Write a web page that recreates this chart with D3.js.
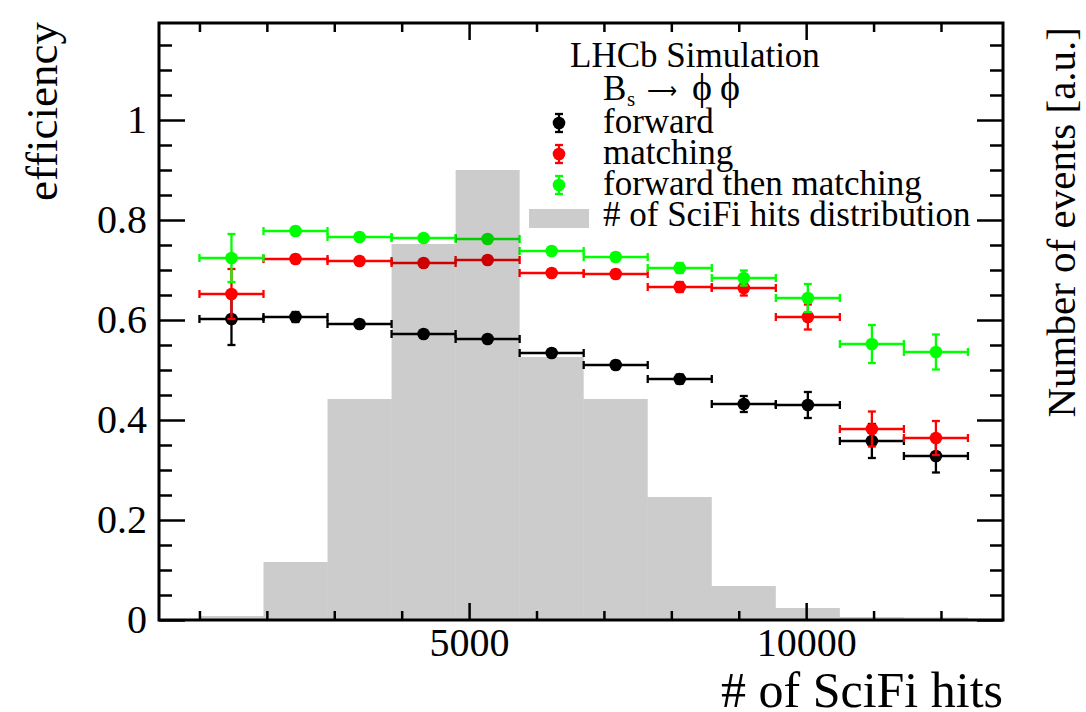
<!DOCTYPE html>
<html lang="en">
<head>
  <meta charset="UTF-8">
  <title>SciFi hits efficiency</title>
  <script src="https://cdn.jsdelivr.net/npm/d3@7"></script>
  <style>
    body { margin: 0; padding: 0; background: #fff; }
    svg text { font-family: "Liberation Serif", "Times New Roman", serif; fill: #000; }
  </style>
</head>
<body>
<div id="chart"></div>
<script>
// bins of the SciFi hit count
var binEdges = [1000, 1950, 2900, 3850, 4800, 5750, 6700, 7650, 8600, 9550, 10500, 11450, 12400];
// hit distribution, drawn on the efficiency scale (a.u.)
var histValues = [0.008, 0.116, 0.442, 0.752, 0.900, 0.526, 0.442, 0.246, 0.068, 0.024, 0.006, 0.005];

var forwardEff  = [0.602, 0.606, 0.592, 0.572, 0.562, 0.534, 0.510, 0.482, 0.432, 0.430, 0.358, 0.328];
var forwardErr  = [0.052, 0.010, 0.006, 0.006, 0.006, 0.007, 0.008, 0.009, 0.016, 0.026, 0.034, 0.033];
var matchingEff = [0.652, 0.722, 0.718, 0.714, 0.720, 0.694, 0.692, 0.666, 0.664, 0.606, 0.382, 0.364];
var matchingErr = [0.050, 0.008, 0.006, 0.006, 0.006, 0.007, 0.008, 0.010, 0.015, 0.025, 0.035, 0.034];
var fwdThenMatchEff = [0.724, 0.778, 0.766, 0.764, 0.762, 0.738, 0.726, 0.704, 0.684, 0.644, 0.552, 0.536];
var fwdThenMatchErr = [0.048, 0.008, 0.006, 0.006, 0.006, 0.007, 0.008, 0.010, 0.015, 0.028, 0.038, 0.035];

var xMajorTicks = [5000, 10000];
var xTickLabels = ["5000", "10000"];
var xMinorTicks = [1000, 2000, 3000, 4000, 6000, 7000, 8000, 9000, 11000, 12000];
var yMajorTicks = [0, 0.2, 0.4, 0.6, 0.8, 1];
var yTickLabels = ["0", "0.2", "0.4", "0.6", "0.8", "1"];
var yMinorTicks = [0.05, 0.1, 0.15, 0.25, 0.3, 0.35, 0.45, 0.5, 0.55, 0.65, 0.7, 0.75, 0.85, 0.9, 0.95, 1.05, 1.1, 1.15];

var series = [
  { name: "forward", color: "#000000", eff: forwardEff, err: forwardErr },
  { name: "matching", color: "#ff0000", eff: matchingEff, err: matchingErr },
  { name: "forward then matching", color: "#00ff00", eff: fwdThenMatchEff, err: fwdThenMatchErr }
];

var W = 1086, H = 712;
var frameL = 159, frameR = 1003, frameT = 23, frameB = 620;

var svg = d3.select("#chart").append("svg")
    .attr("width", W)
    .attr("height", H);

var x = d3.scaleLinear().domain([400, 12920]).range([frameL, frameR]);
var y = d3.scaleLinear().domain([0, 1.194]).range([frameB, frameT]);

var bins = d3.range(histValues.length).map(function(i) {
  return { lo: binEdges[i], hi: binEdges[i + 1], mid: (binEdges[i] + binEdges[i + 1]) / 2 };
});

// points with error bars
series.forEach(function(s) {
  var g = svg.append("g").attr("stroke", s.color).attr("stroke-width", 2.3).attr("fill", s.color);
  bins.forEach(function(b, i) {
    var cy = y(s.eff[i]);
    g.append("line").attr("x1", x(b.lo)).attr("x2", x(b.hi)).attr("y1", cy).attr("y2", cy);
    g.append("line").attr("x1", x(b.lo)).attr("x2", x(b.lo)).attr("y1", cy - 4).attr("y2", cy + 4);
    g.append("line").attr("x1", x(b.hi)).attr("x2", x(b.hi)).attr("y1", cy - 4).attr("y2", cy + 4);
    var yt = y(s.eff[i] + s.err[i]), yb = y(s.eff[i] - s.err[i]);
    g.append("line").attr("x1", x(b.mid)).attr("x2", x(b.mid)).attr("y1", yt).attr("y2", yb);
    g.append("line").attr("x1", x(b.mid) - 4).attr("x2", x(b.mid) + 4).attr("y1", yt).attr("y2", yt);
    g.append("line").attr("x1", x(b.mid) - 4).attr("x2", x(b.mid) + 4).attr("y1", yb).attr("y2", yb);
    g.append("circle").attr("cx", x(b.mid)).attr("cy", cy).attr("r", 6.3).attr("stroke", "none");
  });
});

// transparent histogram on top
svg.append("g").selectAll("rect")
  .data(bins)
  .enter().append("rect")
  .attr("x", function(d) { return x(d.lo); })
  .attr("width", function(d) { return x(d.hi) - x(d.lo); })
  .attr("y", function(d, i) { return y(histValues[i]); })
  .attr("height", function(d, i) { return frameB - y(histValues[i]); })
  .attr("fill", "rgba(0,0,0,0.2)");

// axes
function styleAxis(g) {
  g.select(".domain").remove();
  g.selectAll(".tick line").attr("stroke", "#000").attr("stroke-width", 2.5);
  g.selectAll("text").attr("font-family", "Liberation Serif, serif").attr("font-size", 40).attr("fill", "#000");
}

svg.append("g").attr("transform", "translate(" + frameL + ",0)")
  .call(d3.axisLeft(y).tickValues(yMajorTicks).tickSize(-26).tickPadding(12)
    .tickFormat(function(d, i) { return yTickLabels[i]; }))
  .call(styleAxis);
svg.append("g").attr("transform", "translate(" + frameL + ",0)")
  .call(d3.axisLeft(y).tickValues(yMinorTicks).tickSize(-13).tickFormat(""))
  .call(styleAxis);
svg.append("g").attr("transform", "translate(" + frameR + ",0)")
  .call(d3.axisRight(y).tickValues(yMajorTicks).tickSize(-26).tickFormat(""))
  .call(styleAxis);
svg.append("g").attr("transform", "translate(" + frameR + ",0)")
  .call(d3.axisRight(y).tickValues(yMinorTicks).tickSize(-13).tickFormat(""))
  .call(styleAxis);

svg.append("g").attr("transform", "translate(0," + frameB + ")")
  .call(d3.axisBottom(x).tickValues(xMajorTicks).tickSize(-17).tickPadding(8)
    .tickFormat(function(d, i) { return xTickLabels[i]; }))
  .call(styleAxis);
svg.append("g").attr("transform", "translate(0," + frameB + ")")
  .call(d3.axisBottom(x).tickValues(xMinorTicks).tickSize(-9).tickFormat(""))
  .call(styleAxis);
svg.append("g").attr("transform", "translate(0," + frameT + ")")
  .call(d3.axisTop(x).tickValues(xMajorTicks).tickSize(-17).tickFormat(""))
  .call(styleAxis);
svg.append("g").attr("transform", "translate(0," + frameT + ")")
  .call(d3.axisTop(x).tickValues(xMinorTicks).tickSize(-9).tickFormat(""))
  .call(styleAxis);

svg.append("rect")
  .attr("x", frameL).attr("y", frameT)
  .attr("width", frameR - frameL).attr("height", frameB - frameT)
  .attr("fill", "none").attr("stroke", "#000").attr("stroke-width", 3);

// axis titles
svg.append("text")
  .attr("transform", "translate(57,22) rotate(-90)")
  .attr("text-anchor", "end")
  .attr("font-size", 45)
  .text("efficiency");

svg.append("text")
  .attr("x", frameR).attr("y", 707)
  .attr("text-anchor", "end")
  .attr("font-size", 50)
  .text("# of SciFi hits");

svg.append("text")
  .attr("transform", "translate(1075,27) rotate(-90)")
  .attr("text-anchor", "end")
  .attr("font-size", 41)
  .text("Number of events [a.u.]");

// legend
var legend = svg.append("g");
legend.append("text").attr("x", 570).attr("y", 67).attr("font-size", 35).text("LHCb Simulation");

legend.append("text").attr("x", 603).attr("y", 100).attr("font-size", 35).text("B");
legend.append("text").attr("x", 627).attr("y", 106).attr("font-size", 21).text("s");
legend.append("text").attr("x", 647).attr("y", 98).attr("font-size", 21)
  .attr("font-family", "DejaVu Sans, sans-serif").text("\u27f6");
legend.append("text").attr("x", 692).attr("y", 100).attr("font-size", 38).text("\u03d5");
legend.append("text").attr("x", 720).attr("y", 100).attr("font-size", 38).text("\u03d5");

series.forEach(function(s, i) {
  var cy = 123 + i * 31;
  var g = legend.append("g").attr("stroke", s.color).attr("fill", s.color).attr("stroke-width", 2.3);
  g.append("line").attr("x1", 559).attr("x2", 559).attr("y1", cy - 9).attr("y2", cy + 9);
  g.append("line").attr("x1", 555).attr("x2", 563).attr("y1", cy - 9).attr("y2", cy - 9);
  g.append("line").attr("x1", 555).attr("x2", 563).attr("y1", cy + 9).attr("y2", cy + 9);
  g.append("circle").attr("cx", 559).attr("cy", cy).attr("r", 6.3).attr("stroke", "none");
  legend.append("text").attr("x", 603).attr("y", cy + 10).attr("font-size", 35).text(s.name);
});

legend.append("rect").attr("x", 529).attr("y", 209).attr("width", 60).attr("height", 19)
  .attr("fill", "rgba(0,0,0,0.2)");
legend.append("text").attr("x", 603).attr("y", 226).attr("font-size", 35).text("# of SciFi hits distribution");
</script>
</body>
</html>
